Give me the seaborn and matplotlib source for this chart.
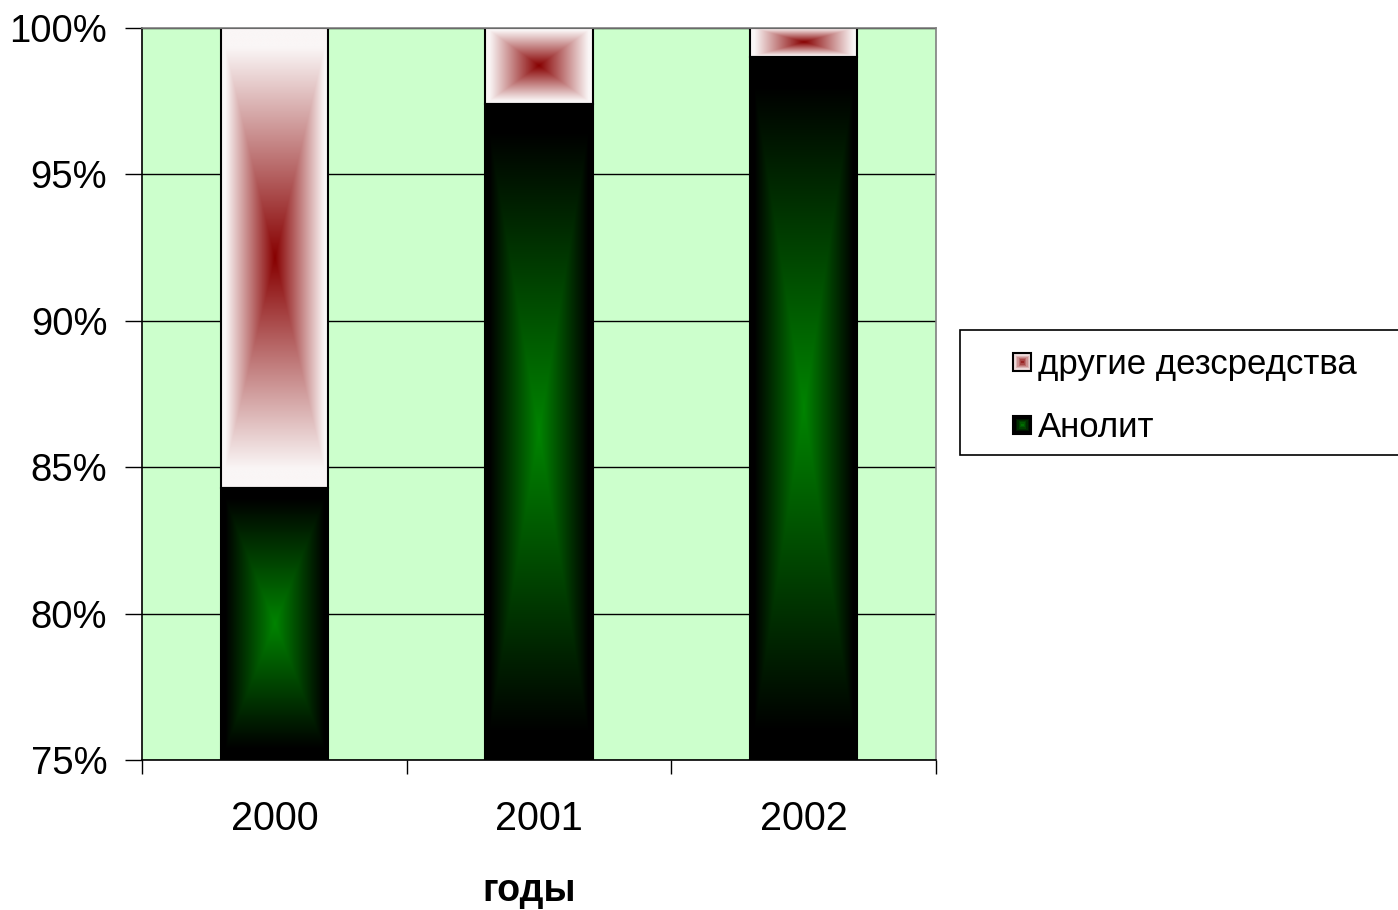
import numpy as np
import pandas as pd
import matplotlib
matplotlib.use("Agg")
import matplotlib.pyplot as plt
from matplotlib.patches import Rectangle
from matplotlib.legend_handler import HandlerBase
import seaborn as sns

# Data: share of disinfectants used per year, %
years = ["2000", "2001", "2002"]
anolit = [84.3, 97.4, 99.0]
other = [round(100 - a, 1) for a in anolit]
series_names = ["другие дезсредства", "Анолит"]
y_ticks = [75, 80, 85, 90, 95, 100]

RED_CENTER = np.array([135, 0, 0]) / 255
RED_EDGE = np.array([250, 246, 246]) / 255
GREEN_CENTER = np.array([0, 132, 0]) / 255
GREEN_EDGE = np.array([0, 0, 0]) / 255

sns.set_theme(style="white")
plt.rcParams["font.family"] = ["Liberation Sans", "DejaVu Sans"]
plt.rcParams["text.color"] = "black"

df = pd.DataFrame({"year": years, "anolit": anolit, "total": [a + o for a, o in zip(anolit, other)]})

fig = plt.figure(figsize=(13.98, 9.10), dpi=100)
ax = fig.add_axes([142 / 1398, 1 - 760 / 910, (936 - 142) / 1398, (760 - 28) / 910])
ax.set_facecolor("#ccffcc")

BAR_W = 0.405
YMIN, YMAX = 75, 100

# stacked: full-height "other" bar underneath, Anolit on top of it
sns.barplot(data=df, x="year", y="total", color="white", width=BAR_W, ax=ax,
            saturation=1, zorder=2)
n_other = len(ax.patches)
sns.barplot(data=df, x="year", y="anolit", color="black", width=BAR_W, ax=ax,
            saturation=1, zorder=3)


def rect_gradient(center, edge, n=300, reach=0.92):
    """Rectangular 'from centre' gradient: centre colour fading to edge colour."""
    u = np.linspace(-1, 1, n)
    uu, vv = np.meshgrid(u, u)
    t = np.maximum(np.abs(uu), np.abs(vv))
    t = np.clip(t / reach, 0, 1)[..., None]
    return center * (1 - t) + edge * t


patches = list(ax.patches)
for i, p in enumerate(patches):
    x0 = p.get_x()
    x1 = x0 + p.get_width()
    top = p.get_y() + p.get_height()
    if i < n_other:
        # the "other" segment sits above the Anolit value of the same year
        bottom = anolit[i]
        img = rect_gradient(RED_CENTER, RED_EDGE)
        z = 2.1
    else:
        bottom = max(p.get_y(), YMIN)
        img = rect_gradient(GREEN_CENTER, GREEN_EDGE)
        z = 3.1
    ax.imshow(img, extent=(x0, x1, bottom, top), aspect="auto", origin="lower",
              interpolation="bilinear", zorder=z)
    p.set_facecolor("none")
    p.set_edgecolor("black")
    p.set_linewidth(1.5)
    p.set_zorder(z + 0.05)
    if i < n_other:
        p.set_y(bottom)
        p.set_height(top - bottom)

ax.set_xlim(-0.5, 2.5)
ax.set_ylim(YMIN, YMAX)
ax.set_yticks(y_ticks)
ax.set_yticklabels([f"{v}%" for v in y_ticks])
ax.yaxis.grid(True, color="black", linewidth=1.0, zorder=1)
ax.set_axisbelow(True)

for s in ax.spines.values():
    s.set_visible(True)
    s.set_color("#808080")
    s.set_linewidth(1.2)
ax.spines["left"].set_color("black")
ax.spines["bottom"].set_color("black")

ax.tick_params(axis="y", which="major", length=12, width=1, color="black", direction="out",
               left=True, pad=13, labelsize=27.5, labelcolor="black")
ax.tick_params(axis="x", which="major", length=0, pad=29, labelsize=28.5, labelcolor="black")
ax.set_xticks([-0.5, 0.5, 1.5, 2.5], minor=True)
ax.tick_params(axis="x", which="minor", length=10, width=1, color="black", direction="out",
               bottom=True)
ax.set_xlabel("годы", fontsize=27, fontweight="bold", color="black")
ax.xaxis.set_label_coords(0.487, -0.154)
ax.set_ylabel("")


class GradientSquareHandler(HandlerBase):
    def __init__(self, center, edge, steps=6):
        super().__init__()
        self.center, self.edge, self.steps = center, edge, steps

    def create_artists(self, legend, orig_handle, xdescent, ydescent, width, height,
                       fontsize, trans):
        side = min(width, height)
        x0 = -xdescent + (width - side) / 2
        y0 = -ydescent + (height - side) / 2
        arts = [Rectangle((x0, y0), side, side, facecolor=self.edge, edgecolor="black",
                          linewidth=1.5, transform=trans)]
        for k in range(1, self.steps):
            f = 1 - k / self.steps
            s = side * f * 0.85
            col = self.center * (1 - f) + self.edge * f
            arts.append(Rectangle((x0 + (side - s) / 2, y0 + (side - s) / 2), s, s,
                                  facecolor=col, edgecolor="none", transform=trans))
        return arts


h_red = Rectangle((0, 0), 1, 1)
h_green = Rectangle((0, 0), 1, 1)
leg = fig.legend([h_red, h_green], series_names,
                 handler_map={h_red: GradientSquareHandler(RED_CENTER, np.array([1, 1, 1]) * 0.85 + RED_CENTER * 0.15),
                              h_green: GradientSquareHandler(GREEN_CENTER, GREEN_EDGE)},
                 loc="upper left", bbox_to_anchor=(996 / 1398, 1 - 331 / 910),
                 frameon=False, fontsize=25, handlelength=0.52, handleheight=0.52,
                 handletextpad=0.2, labelspacing=0.86, borderpad=0, labelcolor="black")

fig.patches.append(Rectangle((960 / 1398, 1 - 455 / 910), 500 / 1398, 125 / 910,
                             transform=fig.transFigure, facecolor="white",
                             edgecolor="black", linewidth=1.2, zorder=0))

fig.savefig("out.png", dpi=100, facecolor="white")
